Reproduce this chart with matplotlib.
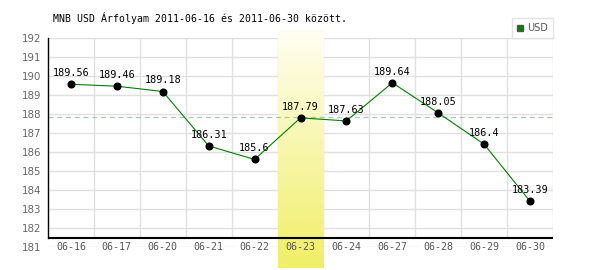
import numpy as np
import matplotlib
matplotlib.use("Agg")
import matplotlib.pyplot as plt
from matplotlib.colors import LinearSegmentedColormap

dates = ['06-16', '06-17', '06-20', '06-21', '06-22', '06-23',
         '06-24', '06-27', '06-28', '06-29', '06-30']
rates = [189.56, 189.46, 189.18, 186.31, 185.6, 187.79,
         187.63, 189.64, 188.05, 186.4, 183.39]
rate_labels = ['189.56', '189.46', '189.18', '186.31', '185.6', '187.79',
               '187.63', '189.64', '188.05', '186.4', '183.39']
ref_line = 187.84
highlight = 5
yticks = list(range(181, 193))

plt.rcParams['font.family'] = 'DejaVu Sans Mono'

fig = plt.figure(figsize=(6, 2.7), dpi=100)
ax = fig.add_axes([48 / 600, 23.3 / 270, 505 / 600, 208.7 / 270])
x = np.arange(len(dates))
ax.set_xlim(-0.5, len(dates) - 0.5)
ax.set_ylim(181, 192)

base = 181.46  # black base line level

# grid
for yv in yticks:
    ax.axhline(yv, color='#e0e0e0', lw=1, zorder=0)
ax.vlines(x[1:] - 0.5, base, 192, color='#e0e0e0', lw=1, zorder=0)
ax.vlines(len(dates) - 0.5, base, 192, color='#e0e0e0', lw=1, zorder=0)

# highlighted day gradient
cmap = LinearSegmentedColormap.from_list('hl', ['#fffef2', '#f0ef66'])
grad = np.linspace(0, 1, 256).reshape(-1, 1)
ax.imshow(grad, cmap=cmap, aspect='auto', origin='upper',
          extent=(highlight - 0.5, highlight + 0.5, 179.88, 192.42),
          zorder=1, clip_on=False)

ax.axhline(ref_line, color='#a8c8a8', lw=0.9, ls=(0, (4, 3)), zorder=2)
ax.axhline(base, color='black', lw=1.5, zorder=3)

ax.plot(x, rates, color='#008000', lw=0.8, zorder=4, label='USD')
ax.plot(x, rates, 'o', color='black', ms=4.8, zorder=5)

for xi, yi, lab in zip(x, rates, rate_labels):
    ax.annotate(lab, (xi, yi), xytext=(0, 8), textcoords='offset points',
                ha='center', va='center', fontsize=7.3, color='black', zorder=6)

for xi, d in zip(x, dates):
    bg = 'none' if xi == highlight else 'white'
    ax.text(xi, 181.0, d, ha='center', va='center', fontsize=7.2,
            color='#555555', zorder=6,
            bbox=dict(facecolor=bg, edgecolor='none', pad=1))

ax.set_xticks([])
ax.set_yticks(yticks)
ax.tick_params(axis='y', length=0, pad=4.5, labelsize=7.4, labelcolor='#666666')
for lab in ax.get_yticklabels():
    lab.set_fontfamily('DejaVu Sans')

for s in ['top', 'right', 'bottom']:
    ax.spines[s].set_visible(False)
ax.spines['left'].set_bounds(base, 192)
ax.spines['left'].set_linewidth(1)

fig.text(53 / 600, 1 - 18 / 270, 'MNB USD Árfolyam 2011-06-16 és 2011-06-30 között.',
         ha='left', va='center', fontsize=7.1, color='black')

handle = plt.Line2D([], [], marker='s', ls='none', color='#008000',
                    markeredgecolor='#555555', ms=5)
leg = ax.legend([handle], ['USD'], loc='lower right', bbox_to_anchor=(1, 1),
                borderaxespad=0, frameon=True, fancybox=False, fontsize=7,
                handlelength=0.8, handletextpad=0.3, borderpad=0.5)
leg.get_frame().set_edgecolor('#dddddd')
leg.get_frame().set_linewidth(1)
for t in leg.get_texts():
    t.set_color('#555555')
    t.set_fontfamily('DejaVu Sans')

fig.savefig('out.png', dpi=100)
